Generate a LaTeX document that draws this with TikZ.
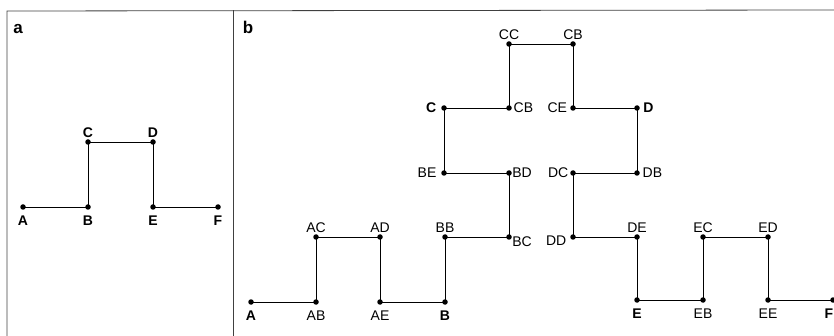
\documentclass[tikz,border=0pt]{standalone}
\usepackage{fontspec}
\setmainfont{Liberation Sans}
\begin{document}
\begin{tikzpicture}[x=1pt,y=-1pt,
  pt/.style={circle,fill=black,inner sep=0pt,minimum size=5.5pt},
  lab/.style={font=\fontsize{14}{14}\selectfont,inner sep=1.5pt},
  blab/.style={font=\fontsize{14}{14}\selectfont\bfseries,inner sep=1.5pt},
  dn/.style={label distance=4pt},
  panel/.style={font=\fontsize{17}{17}\selectfont\bfseries},
  wire/.style={line width=0.9pt},
  frame/.style={line width=0.8pt,draw=black!75}]
\useasboundingbox (0,0) rectangle (834,336);
% frames
\draw[frame] (7,340) -- (7,11) -- (834,10);
\draw[frame] (233,10.5) -- (233,340);
\node[panel] (pa) at (18,29) {a};
\node[panel] (pb) at (248,27) {b};
% panel a
\node[pt,label={[blab,dn]below:A}] (aA) at (23,207) {};
\node[pt,label={[blab,dn]below:B}] (aB) at (88,207) {};
\node[pt,label={[blab]above:C}] (aC) at (88,142) {};
\node[pt,label={[blab]above:D}] (aD) at (153,142) {};
\node[pt,label={[blab,dn]below:E}] (aE) at (153,207) {};
\node[pt,label={[blab,dn]below:F}] (aF) at (218,207) {};
\draw[wire] (aA.center) -- (aB.center) -- (aC.center) -- (aD.center) -- (aE.center) -- (aF.center);
% panel b
\node[pt,label={[blab,dn]below:A}] (A) at (251,302) {};
\node[pt,label={[lab,dn]below:AB}] (AB) at (316,302) {};
\node[pt,label={[lab]above:AC}] (AC) at (316,237) {};
\node[pt,label={[lab]above:AD}] (AD) at (380,237) {};
\node[pt,label={[lab,dn]below:AE}] (AE) at (380,302) {};
\node[pt,label={[blab,dn]below:B}] (B) at (445,302) {};
\node[pt,label={[lab]above:BB}] (BB) at (445,237) {};
\node[pt,label={[lab,label distance=-1.3pt,yshift=-5pt]right:BC}] (BC) at (509,237) {};
\node[pt,label={[lab,label distance=-1.3pt]right:BD}] (BD) at (509,173) {};
\node[pt,label={[lab,label distance=3pt]left:BE}] (BE) at (444,173) {};
\node[pt,label={[blab,label distance=3pt]left:C}] (C) at (444,108) {};
\node[pt,label={[lab,label distance=0pt]right:CB}] (CB1) at (509,108) {};
\node[pt,label={[lab]above:CC}] (CC) at (509,44) {};
\node[pt,label={[lab]above:CB}] (CB2) at (573,44) {};
\node[pt,label={[lab,label distance=1.3pt]left:CE}] (CE) at (573,108) {};
\node[pt,label={[blab,label distance=1.7pt]right:D}] (D) at (637,108) {};
\node[pt,label={[lab,label distance=1pt]right:DB}] (DB) at (637,173) {};
\node[pt,label={[lab,label distance=0pt]left:DC}] (DC) at (573,173) {};
\node[pt,label={[lab,label distance=2pt,yshift=-4pt]left:DD}] (DD) at (573,237) {};
\node[pt,label={[lab]above:DE}] (DE) at (637,237) {};
\node[pt,label={[blab,dn]below:E}] (E) at (637,300) {};
\node[pt,label={[lab,dn]below:EB}] (EB) at (703,300) {};
\node[pt,label={[lab]above:EC}] (EC) at (703,237) {};
\node[pt,label={[lab]above:ED}] (ED) at (768,237) {};
\node[pt,label={[lab,dn]below:EE}] (EE) at (768,300) {};
\node[pt,label={[blab,dn,xshift=-4pt]below:F}] (F) at (833,300) {};
\draw[wire] (A.center) -- (AB.center) -- (AC.center) -- (AD.center) -- (AE.center) -- (B.center)
  -- (BB.center) -- (BC.center) -- (BD.center) -- (BE.center) -- (C.center) -- (CB1.center)
  -- (CC.center) -- (CB2.center) -- (CE.center) -- (D.center) -- (DB.center) -- (DC.center)
  -- (DD.center) -- (DE.center) -- (E.center) -- (EB.center) -- (EC.center) -- (ED.center)
  -- (EE.center) -- (F.center);
\end{tikzpicture}
\end{document}
